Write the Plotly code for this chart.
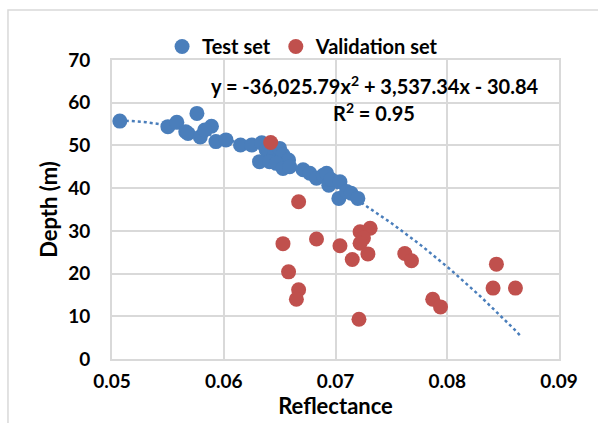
import plotly.graph_objects as go
import numpy as np

test_x = [0.0507, 0.0550, 0.0558, 0.0576, 0.0566, 0.0568, 0.0579, 0.0589, 0.0583, 0.0593,
          0.0602, 0.0615, 0.0625, 0.0634, 0.0638, 0.0640, 0.0645, 0.0650, 0.0653, 0.0658,
          0.0632, 0.0641, 0.0647, 0.0653, 0.0659, 0.0671, 0.0677, 0.0683, 0.0689, 0.0692,
          0.0694, 0.0696, 0.0704, 0.0703, 0.0710, 0.0714, 0.0720]
test_y = [55.7, 54.4, 55.4, 57.5, 53.2, 52.8, 52.0, 54.5, 53.6, 50.9,
          51.3, 50.1, 50.1, 50.6, 49.0, 48.5, 47.5, 49.3, 47.8, 46.6,
          46.2, 46.2, 45.8, 44.6, 45.0, 44.3, 43.5, 42.3, 43.0, 43.5,
          40.7, 42.0, 41.5, 37.6, 39.2, 38.8, 37.6]

val_x = [0.0642, 0.0667, 0.0653, 0.0683, 0.0658, 0.0667, 0.0665, 0.0704, 0.0715, 0.0722,
         0.0731, 0.0725, 0.0722, 0.0729, 0.0721, 0.0762, 0.0768, 0.0787, 0.0794, 0.0844,
         0.0841, 0.0861]
val_y = [50.7, 36.8, 27.0, 28.1, 20.4, 16.2, 14.0, 26.5, 23.3, 29.8,
         30.6, 28.3, 27.1, 24.6, 9.3, 24.7, 23.0, 14.0, 12.2, 22.2,
         16.6, 16.6]

coef = [-36025.79, 3537.34, -30.84]
trend_range = [0.0507, 0.0865]

x_ticks = [0.05, 0.06, 0.07, 0.08, 0.09]
y_ticks = [0, 10, 20, 30, 40, 50, 60, 70]

BLUE = "#4a7ebb"
RED = "#c0504d"
GRID = "#d9d9d9"
FONT = "Lato"

tx = np.linspace(trend_range[0], trend_range[1], 200)
ty = np.polyval(coef, tx)

fig = go.Figure()
fig.add_trace(go.Scatter(x=tx, y=ty, mode="lines", showlegend=False,
                         line=dict(color=BLUE, width=2.5, dash="dot"), hoverinfo="skip"))
fig.add_trace(go.Scatter(x=test_x, y=test_y, mode="markers", name="Test set",
                         marker=dict(color=BLUE, size=15, line=dict(width=0))))
fig.add_trace(go.Scatter(x=val_x, y=val_y, mode="markers", name="Validation set",
                         marker=dict(color=RED, size=15, line=dict(width=0))))

fig.update_layout(
    width=598, height=423,
    margin=dict(l=112, r=39, t=60, b=64),
    paper_bgcolor="white", plot_bgcolor="white",
    font=dict(family=FONT, size=16, color="black"),
    legend=dict(orientation="h", x=0.112, xanchor="left", y=1.045, yanchor="middle",
                font=dict(family=FONT, size=20, color="black", weight="bold"),
                itemwidth=30, tracegroupgap=0, bgcolor="rgba(0,0,0,0)"),
    xaxis=dict(range=[0.05, 0.09], tickvals=x_ticks, ticktext=[f"{v:.2f}" for v in x_ticks],
               showgrid=True, gridcolor=GRID, gridwidth=2, zeroline=False,
               showline=True, linecolor=GRID, linewidth=2, mirror=True,
               ticks="", ticklabelstandoff=4, tickfont=dict(family=FONT, size=19, weight="bold"),
               title=dict(text="Reflectance", font=dict(family=FONT, size=22, weight="bold"), standoff=2)),
    yaxis=dict(range=[0, 70], tickvals=y_ticks,
               showgrid=True, gridcolor=GRID, gridwidth=2, zeroline=False,
               showline=True, linecolor=GRID, linewidth=2, mirror=True,
               ticks="", ticklabelstandoff=16, tickfont=dict(family=FONT, size=19, weight="bold"),
               title=dict(text="Depth (m)", font=dict(family=FONT, size=22, weight="bold"), standoff=4)),
    shapes=[dict(type="rect", xref="paper", yref="paper",
                 x0=-0.2327, x1=1.3, y0=-0.4, y1=1.1672,
                 line=dict(color=GRID, width=1.5), fillcolor="rgba(0,0,0,0)", layer="below")],
    annotations=[
        dict(text="y = -36,025.79x<sup>2</sup> + 3,537.34x - 30.84", xref="paper", yref="paper",
             x=0.589, y=0.916, xanchor="center", yanchor="middle", showarrow=False,
             font=dict(family=FONT, size=20, weight="bold")),
        dict(text="R<sup>2</sup> = 0.95", xref="paper", yref="paper",
             x=0.587, y=0.826, xanchor="center", yanchor="middle", showarrow=False,
             font=dict(family=FONT, size=20, weight="bold")),
    ],
)

fig.write_html("out.html")
